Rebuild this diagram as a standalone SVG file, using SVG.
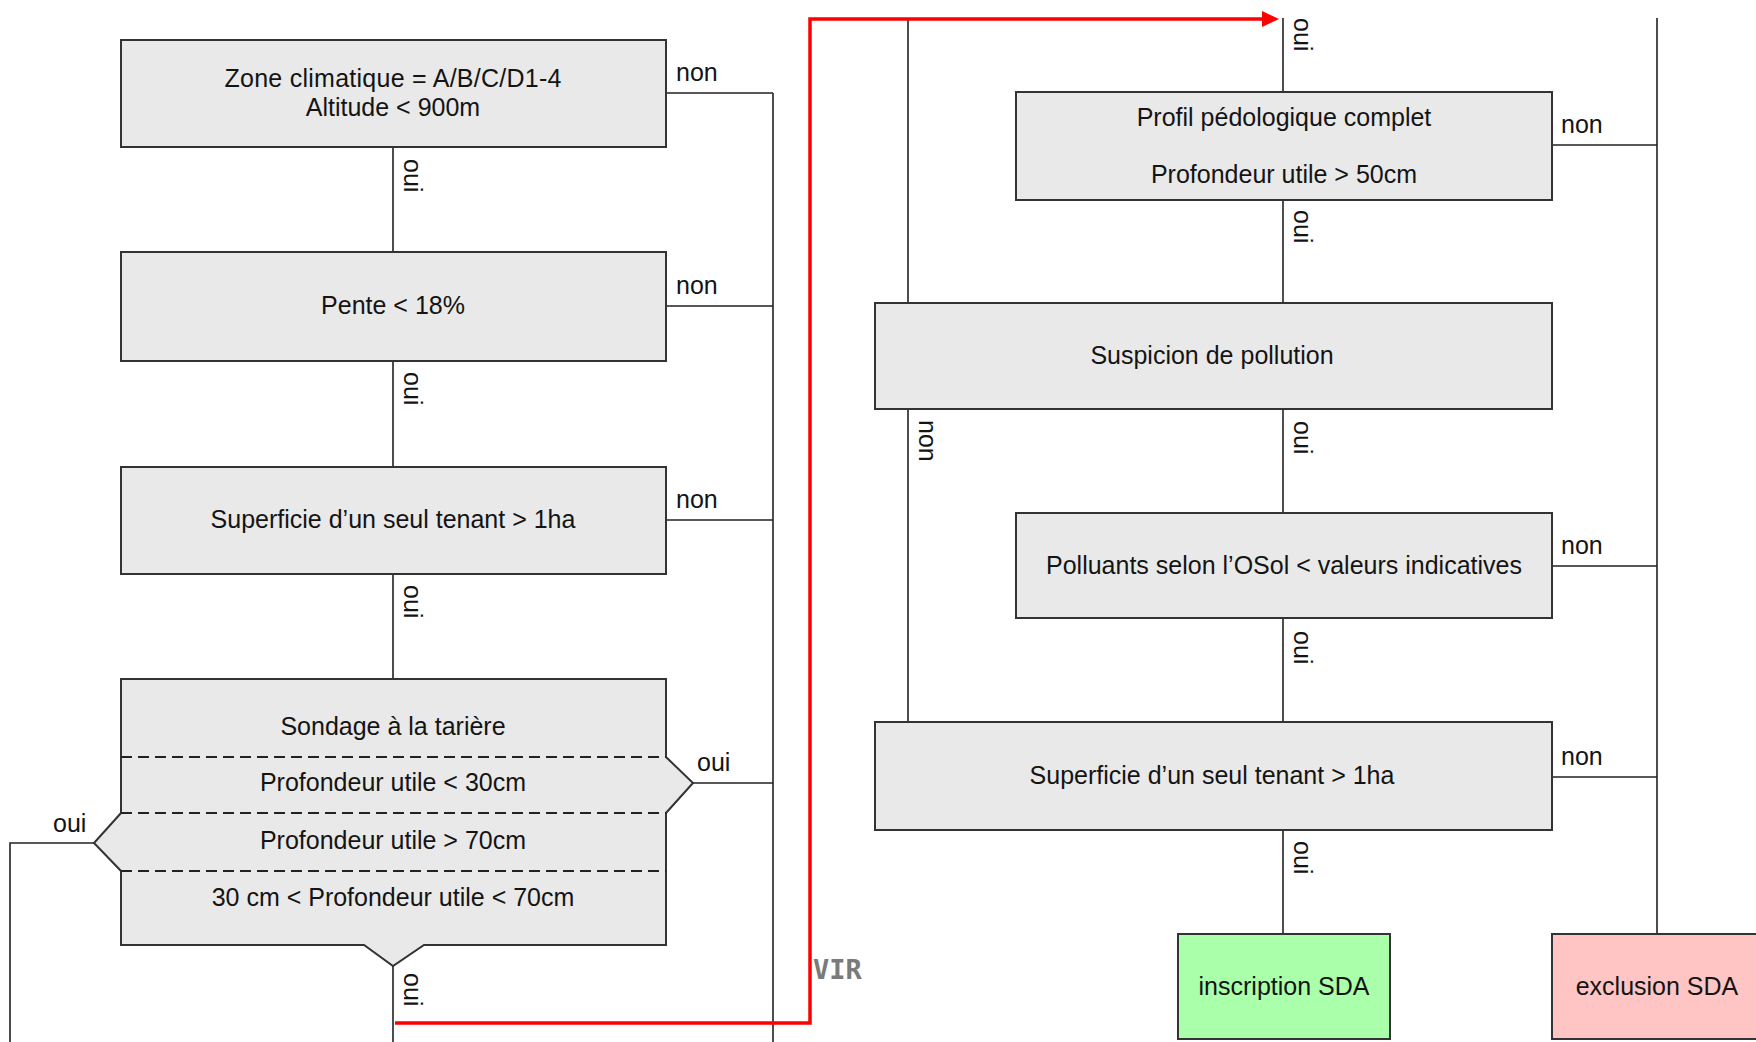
<svg xmlns="http://www.w3.org/2000/svg" width="1756" height="1042" viewBox="0 0 1756 1042">
<defs>
<style>
.box{fill:#e9e9e9;stroke:#333;stroke-width:2}
.t{font-family:"Liberation Sans",Arial,sans-serif;font-size:25px;fill:#141414;text-anchor:middle}
.lb{font-family:"Liberation Sans",Arial,sans-serif;font-size:25px;fill:#141414}
.ln{fill:none;stroke:#222;stroke-width:1.6}
.dash{fill:none;stroke:#222;stroke-width:2;stroke-dasharray:11 6}
.red{fill:none;stroke:#ff0000;stroke-width:3.5}
</style>
<clipPath id="vclip"><rect x="812" y="950" width="52" height="40"/></clipPath>
</defs>
<rect width="1756" height="1042" fill="#fff"/>

<g id="connectors">
<path class="ln" d="M393,147 V252 M393,361 V467 M393,574 V679 M393,966 V1042"/>
<path class="ln" d="M666,93 H773 M666,306 H773 M666,520 H773 M773,93 V1042 M693,783 H773"/>
<path class="ln" d="M94,843 H10 V1042"/>
<path class="ln" d="M908,18 V303 M908,409 V722"/>
<path class="ln" d="M1283,18 V92 M1283,200 V303 M1283,409 V513 M1283,618 V722 M1283,830 V934"/>
<path class="ln" d="M1657,18 V934 M1552,145 H1657 M1552,566 H1657 M1552,777 H1657"/>
<path class="red" d="M395,1023 H810 V19 H1264"/>
<polygon points="1262,11 1279,19 1262,27" fill="#ff0000"/>
<g class="lb">
<text x="676" y="81">non</text>
<text x="676" y="294">non</text>
<text x="676" y="508">non</text>
<text x="697" y="771">oui</text>
<text x="53" y="832">oui</text>
<text x="1561" y="133">non</text>
<text x="1561" y="554">non</text>
<text x="1561" y="765">non</text>
<text transform="translate(404,159) rotate(90)">oui</text>
<text transform="translate(404,372) rotate(90)">oui</text>
<text transform="translate(404,585) rotate(90)">oui</text>
<text transform="translate(404,973) rotate(90)">oui</text>
<text transform="translate(1294,18) rotate(90)">oui</text>
<text transform="translate(1294,210) rotate(90)">oui</text>
<text transform="translate(1294,421) rotate(90)">oui</text>
<text transform="translate(1294,631) rotate(90)">oui</text>
<text transform="translate(1294,841) rotate(90)">oui</text>
<text transform="translate(919,420) rotate(90)">non</text>
</g>
</g>

<g id="zone">
<rect class="box" x="121" y="40" width="545" height="107"/>
<text class="t" x="393" y="87" textLength="337" lengthAdjust="spacing">Zone climatique = A/B/C/D1-4</text>
<text class="t" x="393" y="116">Altitude &lt; 900m</text>
</g>
<g id="pente">
<rect class="box" x="121" y="252" width="545" height="109"/>
<text class="t" x="393" y="314">Pente &lt; 18%</text>
</g>
<g id="superficie1">
<rect class="box" x="121" y="467" width="545" height="107"/>
<text class="t" x="393" y="528">Superficie d’un seul tenant &gt; 1ha</text>
</g>
<g id="sondage">
<path class="box" d="M121,679 H666 V757 L693,783 L666,813 V945 H424 L393,966 L364,945 H121 V871 L94,843 L121,813 Z"/>
<path class="dash" d="M121,757 H666 M121,813 H666 M121,871 H666"/>
<text class="t" x="393" y="735">Sondage à la tarière</text>
<text class="t" x="393" y="791">Profondeur utile &lt; 30cm</text>
<text class="t" x="393" y="849">Profondeur utile &gt; 70cm</text>
<text class="t" x="393" y="906">30 cm &lt; Profondeur utile &lt; 70cm</text>
</g>
<g id="profil">
<rect class="box" x="1016" y="92" width="536" height="108"/>
<text class="t" x="1284" y="126">Profil pédologique complet</text>
<text class="t" x="1284" y="183">Profondeur utile &gt; 50cm</text>
</g>
<g id="suspicion">
<rect class="box" x="875" y="303" width="677" height="106"/>
<text class="t" x="1212" y="364">Suspicion de pollution</text>
</g>
<g id="polluants">
<rect class="box" x="1016" y="513" width="536" height="105"/>
<text class="t" x="1284" y="574">Polluants selon l’OSol &lt; valeurs indicatives</text>
</g>
<g id="superficie2">
<rect class="box" x="875" y="722" width="677" height="108"/>
<text class="t" x="1212" y="784">Superficie d’un seul tenant &gt; 1ha</text>
</g>
<g id="inscription">
<rect class="box" x="1178" y="934" width="212" height="105" style="fill:#aaffaa"/>
<text class="t" x="1284" y="995">inscription SDA</text>
</g>
<g id="exclusion">
<rect class="box" x="1552" y="934" width="210" height="105" style="fill:#ffc5c5"/>
<text class="t" x="1657" y="995">exclusion SDA</text>
</g>
<g id="watermark" clip-path="url(#vclip)">
<text x="813" y="979" style="font-family:'DejaVu Sans Mono',monospace;font-weight:bold;font-size:27px;fill:#7a7a7a">VIR</text>
</g>
</svg>
